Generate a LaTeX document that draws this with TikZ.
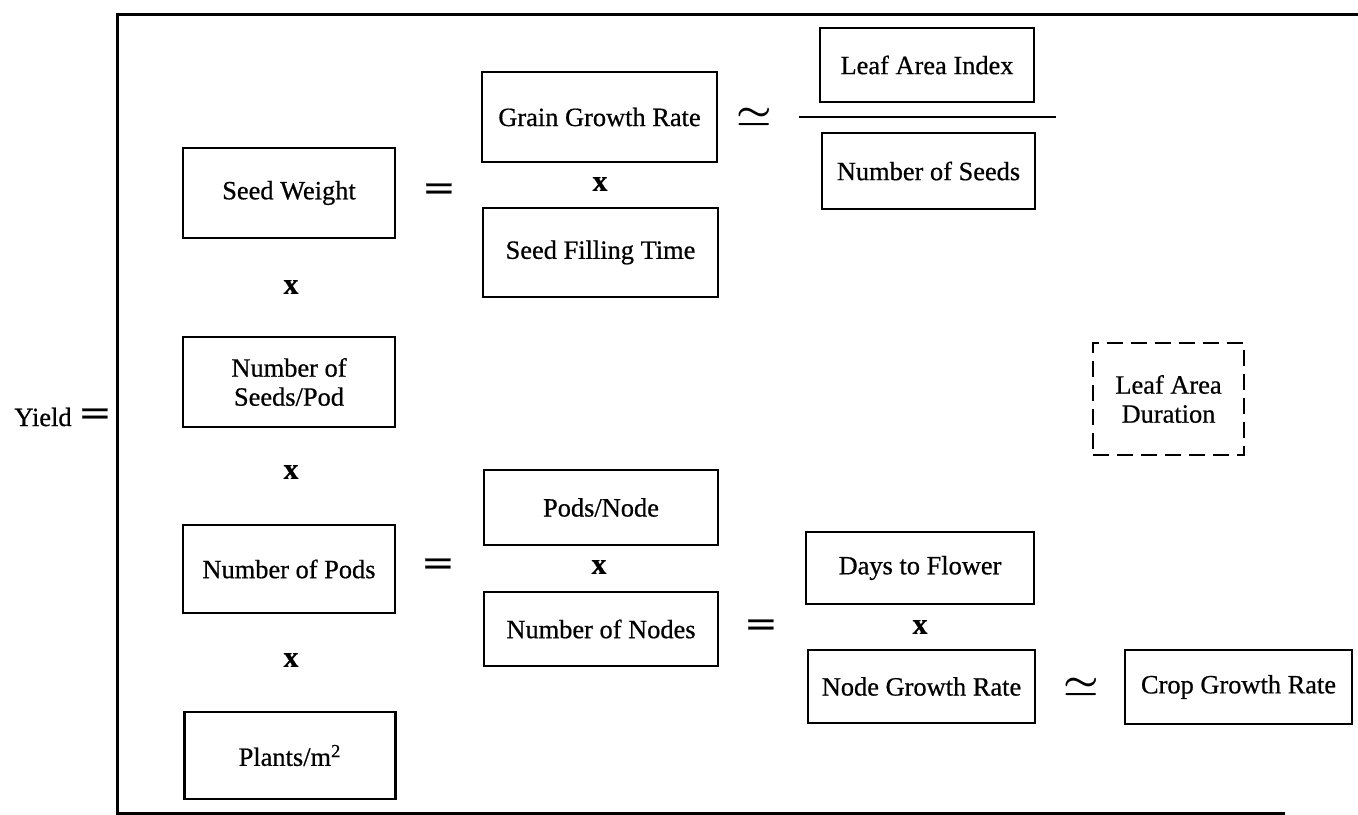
\documentclass[tikz,border=0pt]{standalone}
\usepackage{fontspec}
\usepackage{graphicx}
\setmainfont{Liberation Serif}[FakeBold=0.6]
\begin{document}
\begin{tikzpicture}[x=0.5pt,y=-0.5pt,
  txt/.style={font=\fontsize{13.2}{14.5}\selectfont, inner sep=0pt, align=center},
  box/.style={txt, draw, line width=1.1pt, rectangle},
  dbox/.style={txt, draw, line width=1.1pt, dash pattern=on 8pt off 4pt},
  times/.style={font=\fontsize{15}{15}\selectfont\bfseries, inner sep=0pt},
  eqs/.style={font=\fontsize{18}{18}\selectfont\bfseries\boldmath, inner sep=0pt},
  frame/.style={line width=1.5pt}]
\useasboundingbox (0,0) rectangle (1358,814);
% frame
\coordinate (ftr) at (1358,14);
\coordinate (ftl) at (117,14);
\coordinate (fbl) at (117,813);
\coordinate (fbr) at (1285,813);
\draw[frame] (ftr) -- (ftl) -- (fbl) -- (fbr);
% yield
\node[txt] (yield) at (43,417) {Yield};
\node[eqs] (eq0) at (95,417) {\scalebox{1.5}[1]{=}};
% left column
\node[box, minimum width=106pt, minimum height=45pt] (sw) at (289,193) {Seed Weight};
\node[times] (x1) at (291,287) {x};
\node[box, minimum width=106pt, minimum height=45pt] (nsp) at (289,382) {Number of\\Seeds/Pod};
\node[times] (x2) at (291,472) {x};
\node[box, minimum width=106pt, minimum height=44pt] (npods) at (289,569) {Number of Pods};
\node[times] (x3) at (291,660) {x};
\node[box, minimum width=105.5pt, minimum height=43.5pt] (plants) at (290,755.5) {Plants/m\textsuperscript{2}};
% second column
\node[eqs] (eq1) at (439,192) {\scalebox{1.5}[1]{=}};
\node[box, minimum width=117.5pt, minimum height=45pt] (ggr) at (599.5,117) {Grain Growth Rate};
\node[times] (x4) at (600,184) {x};
\node[box, minimum width=117.5pt, minimum height=44.5pt] (sft) at (600.5,252.5) {Seed Filling Time};
\node[eqs] (eq2) at (438,567) {\scalebox{1.5}[1]{=}};
\node[box, minimum width=117pt, minimum height=37.5pt] (pn) at (601,507.5) {Pods/Node};
\node[times] (x5) at (599,567) {x};
\node[box, minimum width=117pt, minimum height=37pt] (nn) at (601,629) {Number of Nodes};
% third column
\node[eqs] (ap1) at (754,117) {\scalebox{1.15}[1]{$\simeq$}};
\node[box, minimum width=107pt, minimum height=37pt] (lai) at (927,65) {Leaf Area Index};
\coordinate (fl) at (799,117);
\coordinate (fr) at (1056,117);
\draw[line width=1.3pt] (fl) -- (fr);
\node[box, minimum width=106.5pt, minimum height=38pt] (ns) at (928.5,171) {Number of Seeds};
\node[eqs] (eq3) at (761,628) {\scalebox{1.5}[1]{=}};
\node[box, minimum width=114pt, minimum height=36pt] (dtf) at (920,568) {Days to Flower};
\node[times] (x6) at (920,627) {x};
\node[box, minimum width=113.5pt, minimum height=36.5pt] (ngr) at (921.5,686.5) {Node Growth Rate};
\node[eqs] (ap2) at (1081,687) {\scalebox{1.15}[1]{$\simeq$}};
\node[box, minimum width=113.5pt, minimum height=37pt] (cgr) at (1238.5,687) {Crop Growth Rate};
\node[dbox, minimum width=75.5pt, minimum height=56pt] (lad) at (1168.5,399) {Leaf Area\\Duration};
\end{tikzpicture}
\end{document}
